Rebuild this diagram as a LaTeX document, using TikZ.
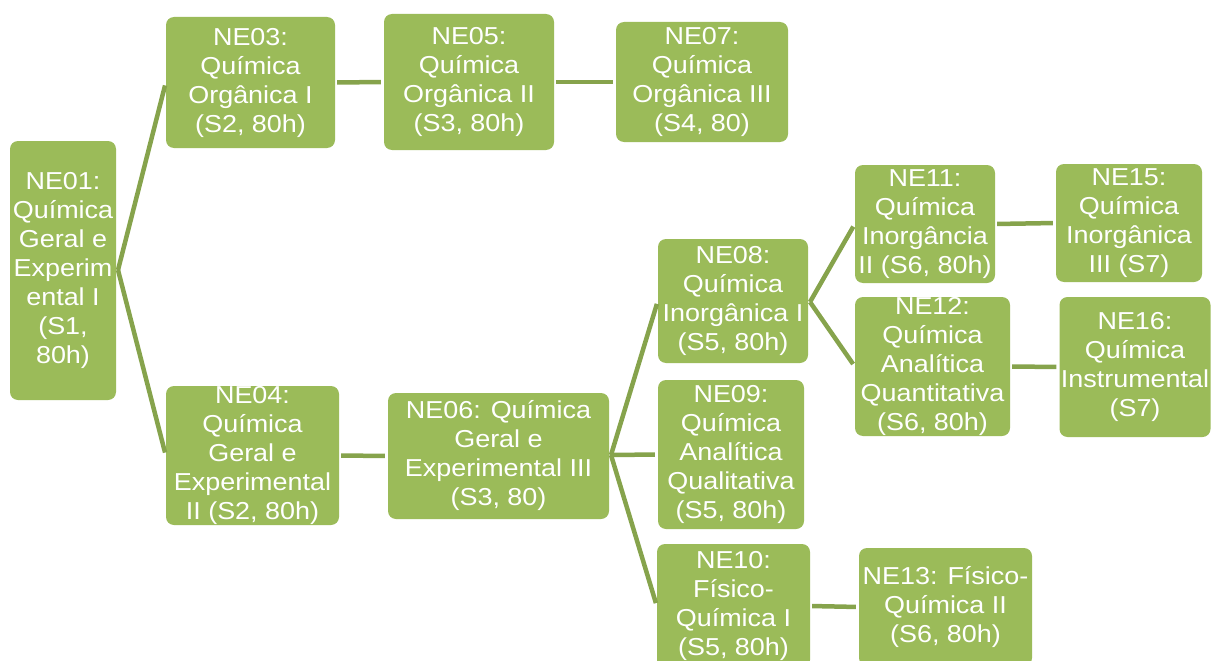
\documentclass[tikz,border=0pt]{standalone}
\usepackage{fontspec}
\setmainfont{Liberation Sans}[FakeStretch=1.1]
\definecolor{boxgreen}{HTML}{9BBB59}
\definecolor{linegreen}{HTML}{86A34C}
\begin{document}
\begin{tikzpicture}[x=1pt,y=-1pt,
  box/.style={fill=boxgreen,draw=none,rounded corners=8pt,text=white,align=center,inner sep=0pt,
    font=\fontsize{24.5}{29}\selectfont},
  conn/.style={draw=linegreen,line width=4.5pt,line cap=butt,shorten >=3pt}]
\useasboundingbox (0,0) rectangle (1211,661);
% nodes
\node[box,minimum width=106pt,minimum height=259pt] (ne01) at (63,270.5) {NE01:\\Química\\Geral e\\Experim\\ental I\\(S1,\\80h)};
\node[box,minimum width=169pt,minimum height=131pt] (ne03) at (250.5,82.5) {NE03:\\Química\\Orgânica I\\(S2, 80h)};
\node[box,minimum width=170pt,minimum height=136pt] (ne05) at (469,82) {NE05:\\Química\\Orgânica II\\(S3, 80h)};
\node[box,minimum width=172pt,minimum height=120pt] (ne07) at (702,82) {NE07:\\Química\\Orgânica III\\(S4, 80)};
\node[box,minimum width=173pt,minimum height=139pt] (ne04) at (252.5,455.5) {NE04:\\Química\\Geral e\\Experimental\\II (S2, 80h)};
\node[box,minimum width=221pt,minimum height=126pt] (ne06) at (498.5,456) {NE06: Química\\Geral e\\Experimental III\\(S3, 80)};
\node[box,minimum width=150pt,minimum height=124pt] (ne08) at (733,301) {NE08:\\Química\\Inorgânica I\\(S5, 80h)};
\node[box,minimum width=146pt,minimum height=149pt] (ne09) at (731,454.5) {NE09:\\Química\\Analítica\\Qualitativa\\(S5, 80h)};
\node[box,minimum width=153pt,minimum height=124pt] (ne10) at (733.5,606) {NE10:\\Físico-\\Química I\\(S5, 80h)};
\node[box,minimum width=173pt,minimum height=118pt] (ne13) at (945.5,607) {NE13: Físico-\\Química II\\(S6, 80h)};
\node[box,minimum width=140pt,minimum height=118pt] (ne11) at (925,224) {NE11:\\Química\\Inorgância\\II (S6, 80h)};
\node[box,minimum width=146pt,minimum height=118pt] (ne15) at (1129,223) {NE15:\\Química\\Inorgânica\\III (S7)};
\node[box,minimum width=155pt,minimum height=139pt] (ne12) at (932.5,366.5) {NE12:\\Química\\Analítica\\Quantitativa\\(S6, 80h)};
\node[box,minimum width=151pt,minimum height=140pt] (ne16) at (1135,367) {NE16:\\Química\\Instrumental\\(S7)};
% fork points
\coordinate (f01) at (118,270);
\coordinate (f06) at (611,455);
\coordinate (f08) at (810,302);
% connectors
\draw[conn] (f01) -- (ne03.west);
\draw[conn] (f01) -- (ne04.west);
\draw[conn,shorten <=2pt] (ne03.east) -- (ne05.west);
\draw[conn,shorten <=2pt] (ne05.east) -- (ne07.west);
\draw[conn,shorten <=2pt] (ne04.east) -- (ne06.west);
\draw[conn] (f06) -- (ne08.west);
\draw[conn] (f06) -- (ne09.west);
\draw[conn] (f06) -- (ne10.west);
\draw[conn] (f08) -- (ne11.west);
\draw[conn] (f08) -- (ne12.west);
\draw[conn,shorten <=2pt] (ne11.east) -- (ne15.west);
\draw[conn,shorten <=2pt] (ne12.east) -- (ne16.west);
\draw[conn,shorten <=2pt] (ne10.east) -- (ne13.west);
\end{tikzpicture}
\end{document}
